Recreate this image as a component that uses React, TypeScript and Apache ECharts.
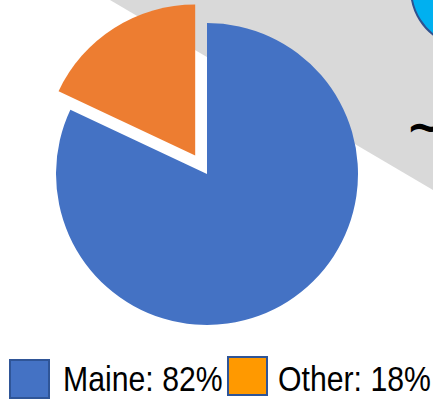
import React, { useEffect, useRef } from "react";
import * as echarts from "echarts";

const categories = ["Maine", "Other"];
const shares = [82, 18];
const sliceColors = ["#4472C4", "#ED7D31"];
const legendColors = ["#4472C4", "#FF9900"];
const explodedCategory = "Other";

// legend layout (positions only)
const legendBoxX = [10, 228];
const legendBoxY = [360, 357];
const legendTextX = [63, 278];

export default function App() {
  const ref = useRef<HTMLDivElement>(null);
  useEffect(() => {
    if (!ref.current) return;
    const chart = echarts.init(ref.current, null, { renderer: "svg" });
    const font = "'Liberation Sans', Arial, sans-serif";
    const legendItems: any[] = [];
    categories.forEach((c, i) => {
      legendItems.push({
        type: "rect",
        silent: true,
        shape: { x: legendBoxX[i], y: legendBoxY[i], width: 39, height: 38 },
        style: { fill: legendColors[i], stroke: "#2F5597", lineWidth: 2 },
      });
      legendItems.push({
        type: "text",
        silent: true,
        x: legendTextX[i],
        y: 379,
        scaleX: 0.84,
        style: {
          x: 0,
          y: 0,
          text: `${c}: ${shares[i]}%`,
          fill: "#000000",
          font: `36px ${font}`,
          verticalAlign: "middle",
          align: "left",
        },
      });
    });
    chart.setOption({
      animation: false,
      backgroundColor: "#ffffff",
      graphic: [
        {
          type: "polygon",
          z: -10,
          silent: true,
          shape: { points: [[110, 0], [433, 0], [433, 190]] },
          style: { fill: "#D9D9D9" },
        },
        {
          type: "circle",
          z: -5,
          silent: true,
          shape: { cx: 469, cy: -11, r: 58 },
          style: { fill: "#00B0F0", stroke: "#2F528F", lineWidth: 2 },
        },
        {
          type: "text",
          z: -5,
          silent: true,
          x: 406,
          y: 103,
          style: {
            text: "~",
            fill: "#000000",
            font: "bold 46px 'DejaVu Sans', sans-serif",
          },
        },
        ...legendItems,
      ],
      series: [
        {
          type: "pie",
          center: [207, 174],
          radius: 151,
          startAngle: 90,
          clockwise: true,
          selectedMode: "single",
          selectedOffset: 22,
          label: { show: false },
          labelLine: { show: false },
          emphasis: { disabled: true },
          data: categories.map((c, i) => ({
            name: c,
            value: shares[i],
            selected: c === explodedCategory,
            itemStyle: { color: sliceColors[i] },
            select: { itemStyle: { color: sliceColors[i] } },
          })),
        },
      ],
    });
    return () => chart.dispose();
  }, []);
  return (
    <div
      ref={ref}
      style={{ position: "fixed", left: 0, top: 0, width: 433, height: 401 }}
    />
  );
}
